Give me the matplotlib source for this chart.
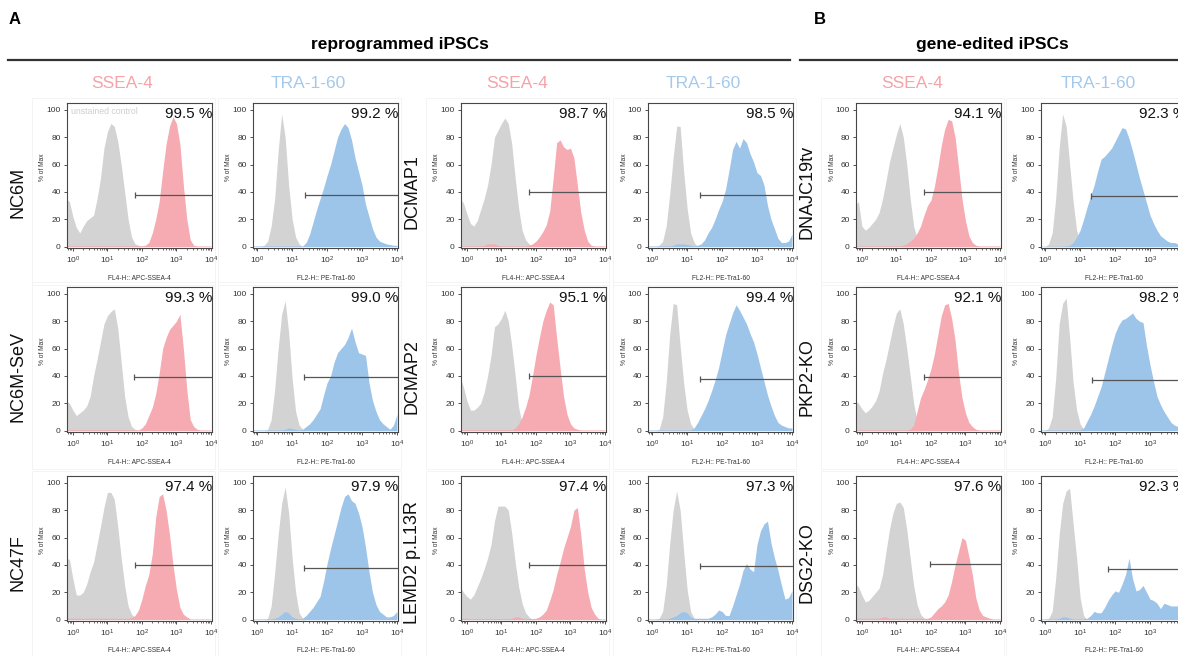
import numpy as np
import matplotlib
matplotlib.use('Agg')
import matplotlib.pyplot as plt
from matplotlib.lines import Line2D
from matplotlib.patches import Rectangle
from matplotlib.ticker import FixedLocator, LogLocator, NullFormatter

plt.rcParams['font.family'] = ['Liberation Sans', 'DejaVu Sans']
plt.rcParams['mathtext.fontset'] = 'custom'
plt.rcParams['mathtext.rm'] = 'Liberation Sans'

# ---------------- data ----------------
# histogram sampling grid: log10(fluorescence) = -0.2, -0.1, ..., 4.0  (43 points)
LOG_GRID = np.round(np.linspace(-0.2, 4.0, 43), 1)

row_labels = ["NC6M", "NC6M-SeV", "NC47F"]
row_labels_mid = ["DCMAP1", "DCMAP2", "LEMD2 p.L13R"]
row_labels_right = ["DNAJC19tv", "PKP2-KO", "DSG2-KO"]
column_markers = ["SSEA-4", "TRA-1-60", "SSEA-4", "TRA-1-60", "SSEA-4", "TRA-1-60"]
x_axis_labels = ["FL4-H:: APC-SSEA-4", "FL2-H:: PE-Tra1-60"]

percent_positive = [
    [99.5, 99.2, 98.7, 98.5, 94.1, 92.3],
    [99.3, 99.0, 95.1, 99.4, 92.1, 98.2],
    [97.4, 97.9, 97.4, 97.3, 97.6, 92.3],
]
gate_start = [
    [63, 23, 62, 23, 65, 21],
    [59, 22, 63, 23, 63, 22],
    [63, 22, 63, 23, 91, 63],
]
gate_level = [
    [38, 38, 40, 37.5, 40, 37],
    [39, 39, 40, 37.5, 39, 37],
    [40, 37.5, 40, 39, 41, 37],
]

# --- row 1 ---
nc6m_ssea_ctrl = [35, 33,
    22, 14, 10, 15, 19, 21, 23, 35, 50, 72,
    84, 90, 88, 77, 60, 40, 20, 7, 2, 1,
    0, 0, 0, 0, 0, 0, 0, 0, 0, 0,
    0, 0, 0, 0, 0, 0, 0, 0, 0, 0, 0]
nc6m_ssea_stain = [0.6, 0.6,
    0.6, 0.6, 0.6, 0.6, 0.6, 0.6, 0.6, 0.6, 0.6, 0.6,
    0.6, 0.6, 0.6, 0.6, 0.6, 0.6, 0.6, 0.6, 0.6, 0.6,
    0.6, 1, 3, 10, 20, 33, 55, 75, 88, 95,
    90, 75, 45, 20, 5, 1, 0.5, 0.5, 0.5, 0.5, 0.5]
nc6m_tra_ctrl = [0, 0,
    0, 0, 1, 4, 15, 35, 70, 97, 80, 45,
    20, 7, 2, 0, 0, 0, 0, 0, 0, 0,
    0, 0, 0, 0, 0, 0, 0, 0, 0, 0,
    0, 0, 0, 0, 0, 0, 0, 0, 0, 0, 0]
nc6m_tra_stain = [0.5, 0.5,
    0.5, 0.5, 0.5, 0.5, 0.5, 0.5, 0.5, 0.5, 0.5, 0.5,
    0.5, 0.5, 0.5, 0.5, 3, 9, 18, 27, 35, 43,
    52, 60, 70, 80, 86, 90, 87, 78, 65, 55,
    45, 31, 22, 13, 7, 4, 3, 2, 1.5, 1, 1]
dcmap1_ssea_ctrl = [35, 32,
    24, 17, 15, 19, 27, 35, 45, 60, 80, 85,
    90, 94, 90, 75, 50, 28, 12, 5, 2, 0,
    0, 0, 0, 0, 0, 0, 0, 0, 0, 0,
    0, 0, 0, 0, 0, 0, 0, 0, 0, 0, 0]
dcmap1_ssea_stain = [0.5, 0.5,
    0.5, 0.5, 0.5, 0.5, 0.5, 1, 2, 2, 2, 1,
    0.5, 0.5, 0.5, 0.5, 0.5, 0.5, 0.5, 0.5, 1, 2,
    4, 7, 11, 16, 26, 50, 76, 78, 73, 71,
    72, 65, 45, 25, 12, 4, 1, 0.5, 0.5, 0.5, 0.5]
dcmap1_tra_ctrl = [0, 0,
    0, 0, 1, 4, 15, 38, 65, 88, 88, 55,
    28, 10, 3, 0, 0, 0, 0, 0, 0, 0,
    0, 0, 0, 0, 0, 0, 0, 0, 0, 0,
    0, 0, 0, 0, 0, 0, 0, 0, 0, 0, 0]
dcmap1_tra_stain = [0.5, 0.5,
    0.5, 0.5, 0.5, 0.5, 0.5, 0.5, 1, 2, 2, 2,
    1.5, 1, 0.5, 1, 2, 5, 10, 14, 20, 27,
    33, 42, 56, 71, 77, 72, 79, 76, 68, 62,
    54, 52, 45, 30, 20, 13, 6, 3, 3, 4, 9]
dnajc_ssea_ctrl = [30, 33,
    15, 12, 14, 17, 20, 25, 35, 48, 62, 72,
    82, 90, 80, 60, 35, 15, 6, 2, 0, 0,
    0, 0, 0, 0, 0, 0, 0, 0, 0, 0,
    0, 0, 0, 0, 0, 0, 0, 0, 0, 0, 0]
dnajc_ssea_stain = [0.5, 0.5,
    0.5, 0.5, 0.5, 0.5, 0.5, 0.5, 0.5, 0.5, 0.5, 0.5,
    0.5, 0.5, 1, 2, 4, 6, 10, 15, 23, 30,
    34, 44, 58, 74, 86, 93, 92, 80, 58, 35,
    19, 8, 3, 1, 0.5, 0.5, 0.5, 0.5, 0.5, 0.5, 0.5]
dnajc_tra_ctrl = [0, 0,
    0, 2, 10, 35, 72, 97, 88, 60, 33, 12,
    3, 0, 0, 0, 0, 0, 0, 0, 0, 0,
    0, 0, 0, 0, 0, 0, 0, 0, 0, 0,
    0, 0, 0, 0, 0, 0, 0, 0, 0, 0, 0]
dnajc_tra_stain = [0.3, 0.3,
    0.3, 0.3, 0.3, 0.3, 0.3, 0.3, 0.5, 1, 3, 7,
    12, 20, 29, 37, 45, 55, 64, 66, 69, 72,
    77, 82, 87, 86, 79, 70, 60, 50, 41, 32,
    23, 17, 12, 8, 6, 4, 3, 3, 2, 2, 1]

# --- row 2 ---
nc6msev_ssea_ctrl = [22, 20,
    15, 11, 13, 15, 18, 25, 40, 52, 65, 78,
    84, 87, 89, 75, 50, 25, 10, 3, 1, 0,
    0, 0, 0, 0, 0, 0, 0, 0, 0, 0,
    0, 0, 0, 0, 0, 0, 0, 0, 0, 0, 0]
nc6msev_ssea_stain = [0.6, 0.6,
    0.6, 0.6, 0.6, 0.6, 0.6, 0.6, 0.6, 0.6, 0.6, 0.6,
    0.6, 0.6, 0.6, 0.6, 0.6, 0.6, 0.6, 0.6, 0.6, 0.5,
    2, 5, 11, 17, 27, 42, 60, 68, 74, 77,
    80, 85, 60, 30, 8, 3, 1, 0.5, 0.5, 0.5, 0.5]
nc6msev_tra_ctrl = [0, 0,
    0, 0, 0, 1, 8, 30, 60, 85, 95, 72,
    38, 14, 4, 1, 0, 0, 0, 0, 0, 0,
    0, 0, 0, 0, 0, 0, 0, 0, 0, 0,
    0, 0, 0, 0, 0, 0, 0, 0, 0, 0, 0]
nc6msev_tra_stain = [0.5, 0.5,
    0.5, 0.5, 0.5, 0.5, 0.5, 0.5, 0.5, 0.5, 1, 2,
    1.5, 1, 0.5, 1, 3, 5, 8, 12, 16, 26,
    35, 40, 50, 57, 60, 63, 68, 75, 65, 57,
    56, 55, 35, 22, 14, 8, 5, 3, 1, 4, 12]
dcmap2_ssea_ctrl = [40, 32,
    22, 15, 15, 17, 20, 28, 40, 55, 76, 78,
    82, 88, 80, 62, 40, 17, 5, 2, 0, 0,
    0, 0, 0, 0, 0, 0, 0, 0, 0, 0,
    0, 0, 0, 0, 0, 0, 0, 0, 0, 0, 0]
dcmap2_ssea_stain = [0.6, 0.6,
    0.6, 0.6, 0.6, 0.6, 0.6, 0.6, 0.6, 0.6, 0.6, 0.6,
    0.6, 0.6, 0.6, 0.5, 2, 5, 10, 17, 26, 40,
    55, 68, 80, 88, 94, 92, 68, 46, 25, 12,
    5, 2, 1, 0.5, 0.5, 0.5, 0.5, 0.5, 0.5, 0.5, 0.5]
dcmap2_tra_ctrl = [0, 0,
    0, 0, 1, 10, 35, 70, 93, 92, 62, 35,
    15, 5, 1, 0, 0, 0, 0, 0, 0, 0,
    0, 0, 0, 0, 0, 0, 0, 0, 0, 0,
    0, 0, 0, 0, 0, 0, 0, 0, 0, 0, 0]
dcmap2_tra_stain = [0.5, 0.5,
    0.5, 0.5, 0.5, 0.5, 0.5, 0.5, 0.5, 0.5, 0.5, 0.5,
    0.5, 0.5, 2, 6, 11, 16, 22, 29, 37, 46,
    58, 70, 78, 86, 92, 88, 83, 78, 71, 65,
    56, 46, 36, 26, 18, 11, 6, 4, 3, 2, 2]
pkp2_ssea_ctrl = [22, 20,
    16, 13, 15, 18, 22, 29, 42, 52, 64, 76,
    86, 89, 78, 60, 40, 20, 7, 2, 0, 0,
    0, 0, 0, 0, 0, 0, 0, 0, 0, 0,
    0, 0, 0, 0, 0, 0, 0, 0, 0, 0, 0]
pkp2_ssea_stain = [0.5, 0.5,
    0.5, 0.5, 0.5, 0.5, 0.5, 0.5, 0.5, 0.5, 0.5, 0.5,
    0.5, 0.5, 0.5, 0.5, 1, 4, 14, 24, 30, 37,
    45, 56, 70, 84, 92, 93, 82, 66, 42, 24,
    13, 6, 3, 1, 0.5, 0.5, 0.5, 0.5, 0.5, 0.5, 0.5]
pkp2_tra_ctrl = [0, 0,
    0, 2, 10, 38, 78, 93, 97, 68, 35, 15,
    5, 1, 0, 0, 0, 0, 0, 0, 0, 0,
    0, 0, 0, 0, 0, 0, 0, 0, 0, 0,
    0, 0, 0, 0, 0, 0, 0, 0, 0, 0, 0]
pkp2_tra_stain = [0.5, 0.5,
    0.5, 0.5, 0.5, 0.5, 0.5, 0.5, 0.5, 0.5, 0.5, 0.5,
    0.5, 2, 7, 12, 18, 25, 32, 42, 52, 62,
    71, 77, 81, 82, 84, 86, 82, 80, 79, 62,
    48, 36, 25, 19, 14, 10, 6, 4, 3, 2, 2]

# --- row 3 ---
nc47f_ssea_ctrl = [45, 44,
    30, 18, 18, 20, 26, 35, 42, 55, 68, 82,
    93, 93, 88, 68, 45, 25, 10, 4, 1.5, 0,
    0, 0, 0, 0, 0, 0, 0, 0, 0, 0,
    0, 0, 0, 0, 0, 0, 0, 0, 0, 0, 0]
nc47f_ssea_stain = [1, 1,
    1, 1, 1, 1, 1, 1, 1, 1, 1, 1,
    1, 1, 1, 1, 1, 1, 1, 1.5, 3, 7,
    15, 25, 33, 48, 75, 90, 92, 80, 62, 40,
    22, 9, 4, 2, 0.5, 0.5, 0.5, 0.5, 0.5, 0.5, 0.5]
nc47f_tra_ctrl = [0, 0,
    0, 0, 0, 1, 10, 34, 62, 85, 97, 78,
    45, 20, 5, 1, 0, 0, 0, 0, 0, 0,
    0, 0, 0, 0, 0, 0, 0, 0, 0, 0,
    0, 0, 0, 0, 0, 0, 0, 0, 0, 0, 0]
nc47f_tra_stain = [0.5, 0.5,
    0.5, 0.5, 0.5, 0.5, 0.5, 1, 2, 4, 6, 5,
    2, 1, 0.5, 1, 3, 6, 9, 13, 17, 28,
    41, 52, 62, 72, 82, 90, 92, 87, 85, 78,
    68, 53, 35, 20, 11, 6, 4, 2, 2, 3, 6]
lemd2_ssea_ctrl = [24, 20,
    17, 15, 18, 24, 30, 37, 45, 55, 72, 83,
    83, 83, 80, 63, 42, 24, 12, 5, 2, 0,
    0, 0, 0, 0, 0, 0, 0, 0, 0, 0,
    0, 0, 0, 0, 0, 0, 0, 0, 0, 0, 0]
lemd2_ssea_stain = [1, 1,
    1, 0.8, 0.8, 0.8, 0.8, 0.8, 0.8, 0.8, 0.8, 0.8,
    0.8, 0.8, 0.8, 1, 2, 2, 1, 0.8, 0.8, 0.8,
    1, 2, 4, 7, 14, 22, 33, 42, 52, 60,
    68, 80, 82, 62, 37, 20, 9, 4, 1, 0.5, 0.5]
lemd2_tra_ctrl = [0, 0,
    0, 0, 1, 6, 25, 55, 80, 94, 80, 50,
    22, 6, 1, 0, 0, 0, 0, 0, 0, 0,
    0, 0, 0, 0, 0, 0, 0, 0, 0, 0,
    0, 0, 0, 0, 0, 0, 0, 0, 0, 0, 0]
lemd2_tra_stain = [0.5, 0.5,
    0.5, 0.5, 0.5, 0.5, 0.5, 1, 2, 3, 5, 6,
    5, 2, 1, 1, 1, 1, 1, 2, 4, 7,
    6, 3, 3, 10, 18, 26, 36, 41, 37, 35,
    55, 65, 70, 72, 56, 45, 36, 25, 15, 16, 21]
dsg2_ssea_ctrl = [26, 24,
    18, 13, 14, 17, 20, 23, 33, 50, 66, 78,
    85, 86, 82, 66, 45, 25, 11, 4, 1, 0.5,
    0, 0, 0, 0, 0, 0, 0, 0, 0, 0,
    0, 0, 0, 0, 0, 0, 0, 0, 0, 0, 0]
dsg2_ssea_stain = [1, 1,
    1, 1, 1, 1, 1, 1, 2, 2, 1, 1,
    1, 1, 1, 1, 1, 1, 1, 1, 1, 1,
    2, 5, 8, 10, 13, 18, 28, 40, 50, 60,
    58, 46, 33, 16, 7, 3, 2, 1, 0.5, 0.5, 0.5]
dsg2_tra_ctrl = [0, 0,
    0, 1, 6, 30, 62, 85, 94, 96, 70, 45,
    16, 3, 0, 0, 0, 0, 0, 0, 0, 0,
    0, 0, 0, 0, 0, 0, 0, 0, 0, 0,
    0, 0, 0, 0, 0, 0, 0, 0, 0, 0, 0]
dsg2_tra_stain = [0.5, 0.5,
    0.5, 0.5, 0.5, 0.5, 1, 2, 2, 1, 0.5, 0.5,
    0.5, 0.5, 1, 3, 6, 5, 5, 9, 14, 18,
    21, 20, 26, 33, 45, 30, 21, 22, 25, 20,
    15, 14, 12, 8, 12, 11, 10, 10, 10, 9, 8]

control_curves = [
    [nc6m_ssea_ctrl, nc6m_tra_ctrl, dcmap1_ssea_ctrl, dcmap1_tra_ctrl, dnajc_ssea_ctrl, dnajc_tra_ctrl],
    [nc6msev_ssea_ctrl, nc6msev_tra_ctrl, dcmap2_ssea_ctrl, dcmap2_tra_ctrl, pkp2_ssea_ctrl, pkp2_tra_ctrl],
    [nc47f_ssea_ctrl, nc47f_tra_ctrl, lemd2_ssea_ctrl, lemd2_tra_ctrl, dsg2_ssea_ctrl, dsg2_tra_ctrl],
]
stained_curves = [
    [nc6m_ssea_stain, nc6m_tra_stain, dcmap1_ssea_stain, dcmap1_tra_stain, dnajc_ssea_stain, dnajc_tra_stain],
    [nc6msev_ssea_stain, nc6msev_tra_stain, dcmap2_ssea_stain, dcmap2_tra_stain, pkp2_ssea_stain, pkp2_tra_stain],
    [nc47f_ssea_stain, nc47f_tra_stain, lemd2_ssea_stain, lemd2_tra_stain, dsg2_ssea_stain, dsg2_tra_stain],
]

# ---------------- style / layout ----------------
W, H = 1178, 656
GRAY = '#d3d3d3'
PINK = '#f5abb1'
BLUE = '#9dc4e9'
PINK_TXT = '#f5a3a8'
BLUE_TXT = '#a4c9ed'
SPINE = '#474747'

col_left = [67, 253, 461, 648, 856, 1041]
row_top = [103, 287, 476]
AX_W, AX_H = 145, 145

fig = plt.figure(figsize=(W / 100, H / 100), dpi=100)


def fx(px):
    return px / W


def fy(py):
    return 1 - py / H


x_fl = 10 ** LOG_GRID

for r in range(3):
    for c in range(6):
        left, top = col_left[c], row_top[r]
        # faint FlowJo page frame behind each panel
        fig.add_artist(Rectangle((fx(left - 35), fy(top + AX_H + 37)), 183 / W,
                                 (AX_H + 42) / H, fill=False, ec='#f3f3f3', lw=0.6,
                                 zorder=0))
        ax = fig.add_axes([fx(left), fy(top + AX_H), AX_W / W, AX_H / H])
        is_ssea = (c % 2 == 0)
        ctrl = np.asarray(control_curves[r][c], dtype=float)
        stain = np.asarray(stained_curves[r][c], dtype=float)
        assert len(ctrl) == 43 and len(stain) == 43, (r, c, len(ctrl), len(stain))
        ax.fill_between(x_fl, 0, ctrl, color=GRAY, lw=0, zorder=1)
        ax.fill_between(x_fl, 0, stain, color=PINK if is_ssea else BLUE, lw=0, zorder=2)
        ax.set_xscale('log')
        ax.set_xlim(10 ** (-0.17 if is_ssea else -0.12), 10 ** 4.03)
        ax.set_ylim(-1, 105)
        # gate
        g0, gy = gate_start[r][c], gate_level[r][c]
        ax.plot([g0, 10 ** 4.03], [gy, gy], color='#555555', lw=0.9, zorder=3,
                solid_capstyle='butt')
        ax.plot([g0], [gy], marker='|', ms=4.5, mew=0.9, color='#555555', zorder=3)
        # percentage
        ax.text(1.0, 0.972, f"{percent_positive[r][c]:.1f} %", transform=ax.transAxes,
                ha='right', va='top', fontsize=11, color='#111111', zorder=4)
        # ticks
        ax.xaxis.set_major_locator(FixedLocator([1, 10, 100, 1000, 10000]))
        ax.set_xticklabels([r'$\mathregular{10^{%d}}$' % k for k in range(5)])
        ax.xaxis.set_minor_locator(LogLocator(base=10, subs=np.arange(2, 10), numticks=20))
        ax.xaxis.set_minor_formatter(NullFormatter())
        ax.set_yticks([0, 20, 40, 60, 80, 100])
        ax.tick_params(axis='both', which='major', direction='out', length=2.5, width=0.6,
                       labelsize=6, colors='#333333', pad=2)
        ax.tick_params(axis='x', which='minor', direction='out', length=1.5, width=0.5,
                       colors='#333333')
        for sp in ax.spines.values():
            sp.set_color(SPINE)
            sp.set_linewidth(0.8)
        # axis labels
        fig.text(fx(left - 24), fy(top + AX_H / 2 - 8), '% of Max', rotation=90,
                 ha='center', va='center', fontsize=4.8, color='#333333')
        fig.text(fx(left + AX_W / 2), fy(top + AX_H + 30), x_axis_labels[c % 2],
                 ha='center', va='center', fontsize=4.8, color='#333333')
        if r == 0 and c == 0:
            ax.text(0.03, 0.975, 'unstained control', transform=ax.transAxes, ha='left',
                    va='top', fontsize=6.3, color='#cfcfcf', zorder=4)

# row labels
label_y = [192, 377, 563]
for labels, xpos in ((row_labels, 18), (row_labels_mid, 412), (row_labels_right, 807)):
    for lab, yy in zip(labels, label_y):
        fig.text(fx(xpos), fy(yy), lab, rotation=90, ha='center', va='center',
                 fontsize=13, color='#111111')

# column headers
header_x = [122, 308, 517, 703, 912, 1098]
for name, hx in zip(column_markers, header_x):
    fig.text(fx(hx), fy(83), name, ha='center', va='center', fontsize=12.5,
             color=PINK_TXT if name.startswith('SSEA') else BLUE_TXT)

# section titles
fig.text(fx(15), fy(20), 'A', ha='center', va='center', fontsize=12, fontweight='bold')
fig.text(fx(820), fy(20), 'B', ha='center', va='center', fontsize=12, fontweight='bold')
fig.text(fx(400), fy(45), 'reprogrammed iPSCs', ha='center', va='center', fontsize=12.5,
         fontweight='bold')
fig.text(fx(992), fy(45), 'gene-edited iPSCs', ha='center', va='center', fontsize=12.5,
         fontweight='bold')
fig.add_artist(Line2D([fx(8), fx(790)], [fy(60), fy(60)], color='#333333', lw=1.6))
fig.add_artist(Line2D([fx(800), fx(1178)], [fy(60), fy(60)], color='#333333', lw=1.6))

fig.savefig('out.png', dpi=100)
